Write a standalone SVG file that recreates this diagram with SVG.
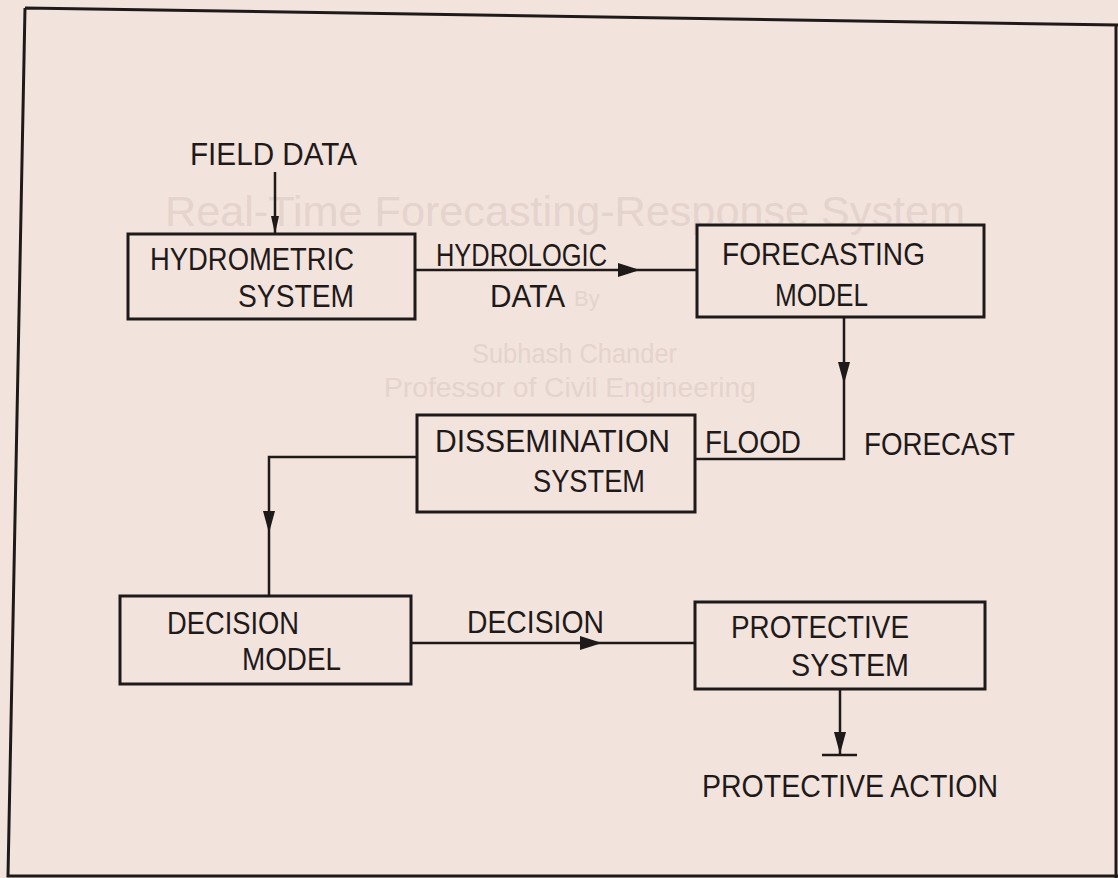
<svg xmlns="http://www.w3.org/2000/svg" width="1118" height="878" viewBox="0 0 1118 878">
<defs>
<style>
.bg{fill:#f3e3dd}
.ghost{font-family:"Liberation Sans",Arial,sans-serif;fill:#e5d3cd}
.box{fill:none;stroke:#1e1a1a;stroke-width:3}
.lbl{font-family:"Liberation Sans",Arial,sans-serif;font-size:31px;fill:#1e1a1a}
.con{fill:none;stroke:#1e1a1a;stroke-width:2.5}
.frame{fill:none;stroke:#1e1a1a;stroke-width:3}
.ah{fill:#1e1a1a}
</style>
<path id="ahR" d="M0,-7 L22,0 L0,7 Z"/>
<path id="ahD" d="M-6,0 L0,22 L6,0 Z"/>
</defs>
<rect class="bg" x="0" y="0" width="1118" height="878"/>
<g id="ghost">
<text class="ghost" x="165" y="226" font-size="42" textLength="800" lengthAdjust="spacingAndGlyphs">Real-Time Forecasting-Response System</text>
<text class="ghost" x="574" y="306" font-size="22">By</text>
<text class="ghost" x="472" y="363" font-size="27" textLength="205" lengthAdjust="spacingAndGlyphs">Subhash Chander</text>
<text class="ghost" x="384" y="397" font-size="27" textLength="372" lengthAdjust="spacingAndGlyphs">Professor of Civil Engineering</text>
</g>
<g id="frame">
<path class="frame" d="M25,8 L1118,25 M25,8 L8,876 L1118,876 M1116,25 L1116,878"/>
</g>
<g id="connectors">
<path class="con" d="M275,172 L275,234"/>
<path class="ah" d="M271,216 L275,234 L279,216 Z"/>
<path class="con" d="M415,270 L697,270"/>
<use href="#ahR" class="ah" x="618" y="270"/>
<path class="con" d="M844,317 L844,459 L695,459"/>
<use href="#ahD" class="ah" x="844" y="362"/>
<path class="con" d="M417,457 L269,457 L269,596"/>
<use href="#ahD" class="ah" x="269" y="511"/>
<path class="con" d="M411,643 L695,643"/>
<use href="#ahR" class="ah" x="580" y="643"/>
<path class="con" d="M840,689 L840,755 M822,755 L857,755"/>
<use href="#ahD" class="ah" x="840" y="732"/>
</g>
<g id="field-data">
<text class="lbl" x="190" y="165" textLength="167" lengthAdjust="spacingAndGlyphs">FIELD DATA</text>
</g>
<g id="hydrometric-system">
<rect class="box" x="128" y="234" width="287" height="85"/>
<text class="lbl" x="150" y="270" textLength="204" lengthAdjust="spacingAndGlyphs">HYDROMETRIC</text>
<text class="lbl" x="238" y="307" textLength="116" lengthAdjust="spacingAndGlyphs">SYSTEM</text>
</g>
<g id="hydrologic-data-label">
<text class="lbl" x="436" y="266" textLength="171" lengthAdjust="spacingAndGlyphs">HYDROLOGIC</text>
<text class="lbl" x="490" y="307" textLength="75" lengthAdjust="spacingAndGlyphs">DATA</text>
</g>
<g id="forecasting-model">
<rect class="box" x="697" y="225" width="287" height="92"/>
<text class="lbl" x="722" y="265" textLength="203" lengthAdjust="spacingAndGlyphs">FORECASTING</text>
<text class="lbl" x="775" y="306" textLength="93" lengthAdjust="spacingAndGlyphs">MODEL</text>
</g>
<g id="dissemination-system">
<rect class="box" x="417" y="415" width="278" height="97"/>
<text class="lbl" x="435" y="452" textLength="235" lengthAdjust="spacingAndGlyphs">DISSEMINATION</text>
<text class="lbl" x="533" y="492" textLength="112" lengthAdjust="spacingAndGlyphs">SYSTEM</text>
</g>
<g id="flood-forecast-label">
<text class="lbl" x="705" y="453" textLength="96" lengthAdjust="spacingAndGlyphs">FLOOD</text>
<text class="lbl" x="864" y="455" textLength="151" lengthAdjust="spacingAndGlyphs">FORECAST</text>
</g>
<g id="decision-model">
<rect class="box" x="120" y="596" width="291" height="88"/>
<text class="lbl" x="167" y="634" textLength="132" lengthAdjust="spacingAndGlyphs">DECISION</text>
<text class="lbl" x="242" y="670" textLength="99" lengthAdjust="spacingAndGlyphs">MODEL</text>
</g>
<g id="decision-label">
<text class="lbl" x="467" y="633" textLength="137" lengthAdjust="spacingAndGlyphs">DECISION</text>
</g>
<g id="protective-system">
<rect class="box" x="695" y="602" width="290" height="87"/>
<text class="lbl" x="731" y="638" textLength="178" lengthAdjust="spacingAndGlyphs">PROTECTIVE</text>
<text class="lbl" x="791" y="676" textLength="118" lengthAdjust="spacingAndGlyphs">SYSTEM</text>
</g>
<g id="protective-action">
<text class="lbl" x="702" y="797" textLength="296" lengthAdjust="spacingAndGlyphs">PROTECTIVE ACTION</text>
</g>
</svg>
